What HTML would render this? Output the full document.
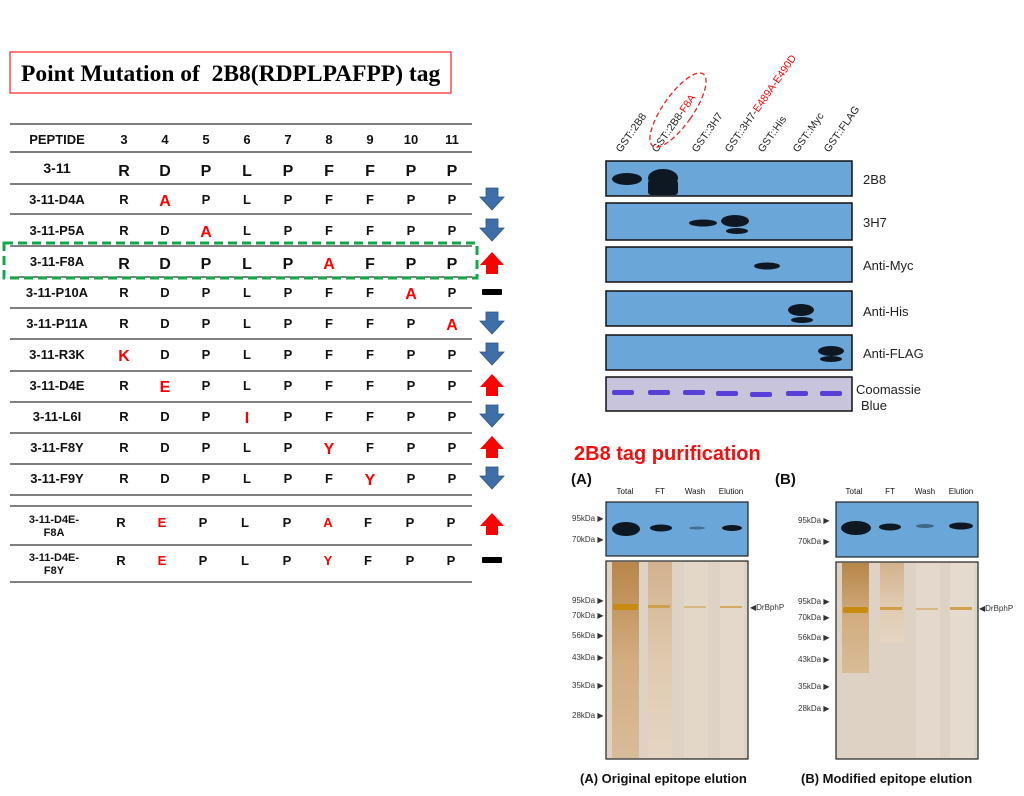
<!DOCTYPE html>
<html><head><meta charset="utf-8"><style>
html,body{margin:0;padding:0;background:#fff;}
svg{display:block;font-family:"Liberation Sans",sans-serif;}
</style></head><body>
<svg width="1024" height="796" viewBox="0 0 1024 796" xmlns="http://www.w3.org/2000/svg">
<defs>
<linearGradient id="laneT" x1="0" y1="0" x2="0" y2="1">
<stop offset="0" stop-color="#b7864a"/><stop offset="0.5" stop-color="#d2ad80"/><stop offset="1" stop-color="#d8bc98"/></linearGradient>
<linearGradient id="laneF" x1="0" y1="0" x2="0" y2="1">
<stop offset="0" stop-color="#d0aa80"/><stop offset="0.5" stop-color="#e0c8aa"/><stop offset="1" stop-color="#e6d6c2"/></linearGradient>
<g id="down"><path d="M-6,-11 h12 v9 h6 l-12,13 l-12,-13 h6 z" fill="#3f6fa8" stroke="#2d5484" stroke-width="0.8"/></g>
<g id="up"><path d="M-6,11 h12 v-9 h6 l-12,-13 l-12,13 h6 z" fill="#ff0000"/></g>
<g id="dash"><rect x="-10" y="-3" width="20" height="6" rx="1" fill="#000"/></g>
</defs>

<!-- title -->
<rect x="10" y="52" width="441" height="41" fill="none" stroke="#ff2020" stroke-width="1.2"/>
<text x="21" y="81" font-family="Liberation Serif,serif" font-weight="bold" font-size="23.5" xml:space="preserve">Point Mutation of  2B8(RDPLPAFPP) tag</text>

<!-- table lines -->
<g stroke="#333" stroke-width="1.3">
<line x1="10" y1="124" x2="472" y2="124"/><line x1="10" y1="152" x2="472" y2="152"/>
<line x1="10" y1="184" x2="472" y2="184"/><line x1="10" y1="214" x2="472" y2="214"/>
<line x1="10" y1="246" x2="472" y2="246"/><line x1="10" y1="277" x2="472" y2="277"/>
<line x1="10" y1="308" x2="472" y2="308"/><line x1="10" y1="339" x2="472" y2="339"/>
<line x1="10" y1="371" x2="472" y2="371"/><line x1="10" y1="402" x2="472" y2="402"/>
<line x1="10" y1="433" x2="472" y2="433"/><line x1="10" y1="464" x2="472" y2="464"/>
<line x1="10" y1="495" x2="472" y2="495"/><line x1="10" y1="506" x2="472" y2="506"/>
<line x1="10" y1="545" x2="472" y2="545"/><line x1="10" y1="582" x2="472" y2="582"/>
</g>
<rect x="4" y="243" width="473" height="35" fill="none" stroke="#12a84a" stroke-width="3" stroke-dasharray="9,5"/>

<g font-weight="bold" font-size="13" text-anchor="middle" fill="#111">
<text x="57" y="144">PEPTIDE</text>
<text x="124" y="144">3</text><text x="165" y="144">4</text><text x="206" y="144">5</text><text x="247" y="144">6</text><text x="288" y="144">7</text><text x="329" y="144">8</text><text x="370" y="144">9</text><text x="411" y="144">10</text><text x="452" y="144">11</text>
<text x="57" y="173" font-size="14">3-11</text>
<text x="57" y="204">3-11-D4A</text><text x="57" y="235">3-11-P5A</text>
<text x="57" y="266">3-11-F8A</text><text x="57" y="297">3-11-P10A</text>
<text x="57" y="328">3-11-P11A</text><text x="57" y="359">3-11-R3K</text>
<text x="57" y="390">3-11-D4E</text><text x="57" y="421">3-11-L6I</text>
<text x="57" y="452">3-11-F8Y</text><text x="57" y="483">3-11-F9Y</text>
<text x="54" y="523" font-size="11">3-11-D4E-</text><text x="54" y="536" font-size="11">F8A</text>
<text x="54" y="561" font-size="11">3-11-D4E-</text><text x="54" y="574" font-size="11">F8Y</text>
</g>
<g font-weight="bold" text-anchor="middle" fill="#111" font-size="16">
<text y="176"><tspan x="124">R</tspan><tspan x="165">D</tspan><tspan x="206">P</tspan><tspan x="247">L</tspan><tspan x="288">P</tspan><tspan x="329">F</tspan><tspan x="370">F</tspan><tspan x="411">P</tspan><tspan x="452">P</tspan></text>
<text y="269"><tspan x="124">R</tspan><tspan x="165">D</tspan><tspan x="206">P</tspan><tspan x="247">L</tspan><tspan x="288">P</tspan><tspan x="329" fill="#f00">A</tspan><tspan x="370">F</tspan><tspan x="411">P</tspan><tspan x="452">P</tspan></text>
</g>
<g font-weight="bold" text-anchor="middle" fill="#111" font-size="13">
<text y="204"><tspan x="124">R</tspan><tspan x="165" fill="#f00" font-size="16" dy="2">A</tspan><tspan x="206" dy="-2">P</tspan><tspan x="247">L</tspan><tspan x="288">P</tspan><tspan x="329">F</tspan><tspan x="370">F</tspan><tspan x="411">P</tspan><tspan x="452">P</tspan></text>
<text y="235"><tspan x="124">R</tspan><tspan x="165">D</tspan><tspan x="206" fill="#f00" font-size="16" dy="2">A</tspan><tspan x="247" dy="-2">L</tspan><tspan x="288">P</tspan><tspan x="329">F</tspan><tspan x="370">F</tspan><tspan x="411">P</tspan><tspan x="452">P</tspan></text>
<text y="297"><tspan x="124">R</tspan><tspan x="165">D</tspan><tspan x="206">P</tspan><tspan x="247">L</tspan><tspan x="288">P</tspan><tspan x="329">F</tspan><tspan x="370">F</tspan><tspan x="411" fill="#f00" font-size="16" dy="2">A</tspan><tspan x="452" dy="-2">P</tspan></text>
<text y="328"><tspan x="124">R</tspan><tspan x="165">D</tspan><tspan x="206">P</tspan><tspan x="247">L</tspan><tspan x="288">P</tspan><tspan x="329">F</tspan><tspan x="370">F</tspan><tspan x="411">P</tspan><tspan x="452" fill="#f00" font-size="16" dy="2">A</tspan></text>
<text y="359"><tspan x="124" fill="#f00" font-size="16" dy="2">K</tspan><tspan x="165" dy="-2">D</tspan><tspan x="206">P</tspan><tspan x="247">L</tspan><tspan x="288">P</tspan><tspan x="329">F</tspan><tspan x="370">F</tspan><tspan x="411">P</tspan><tspan x="452">P</tspan></text>
<text y="390"><tspan x="124">R</tspan><tspan x="165" fill="#f00" font-size="16" dy="2">E</tspan><tspan x="206" dy="-2">P</tspan><tspan x="247">L</tspan><tspan x="288">P</tspan><tspan x="329">F</tspan><tspan x="370">F</tspan><tspan x="411">P</tspan><tspan x="452">P</tspan></text>
<text y="421"><tspan x="124">R</tspan><tspan x="165">D</tspan><tspan x="206">P</tspan><tspan x="247" fill="#f00" font-size="16" dy="2">I</tspan><tspan x="288" dy="-2">P</tspan><tspan x="329">F</tspan><tspan x="370">F</tspan><tspan x="411">P</tspan><tspan x="452">P</tspan></text>
<text y="452"><tspan x="124">R</tspan><tspan x="165">D</tspan><tspan x="206">P</tspan><tspan x="247">L</tspan><tspan x="288">P</tspan><tspan x="329" fill="#f00" font-size="16" dy="2">Y</tspan><tspan x="370" dy="-2">F</tspan><tspan x="411">P</tspan><tspan x="452">P</tspan></text>
<text y="483"><tspan x="124">R</tspan><tspan x="165">D</tspan><tspan x="206">P</tspan><tspan x="247">L</tspan><tspan x="288">P</tspan><tspan x="329">F</tspan><tspan x="370" fill="#f00" font-size="16" dy="2">Y</tspan><tspan x="411" dy="-2">P</tspan><tspan x="452">P</tspan></text>
<text y="527"><tspan x="121">R</tspan><tspan x="162" fill="#f00">E</tspan><tspan x="203">P</tspan><tspan x="245">L</tspan><tspan x="287">P</tspan><tspan x="328" fill="#f00">A</tspan><tspan x="368">F</tspan><tspan x="410">P</tspan><tspan x="451">P</tspan></text>
<text y="565"><tspan x="121">R</tspan><tspan x="162" fill="#f00">E</tspan><tspan x="203">P</tspan><tspan x="245">L</tspan><tspan x="287">P</tspan><tspan x="328" fill="#f00">Y</tspan><tspan x="368">F</tspan><tspan x="410">P</tspan><tspan x="451">P</tspan></text>
</g>
<use href="#down" x="492" y="199"/><use href="#down" x="492" y="230"/>
<use href="#up" x="492" y="263"/><use href="#dash" x="492" y="292"/>
<use href="#down" x="492" y="323"/><use href="#down" x="492" y="354"/>
<use href="#up" x="492" y="385"/><use href="#down" x="492" y="416"/>
<use href="#up" x="492" y="447"/><use href="#down" x="492" y="478"/>
<use href="#up" x="492" y="524"/><use href="#dash" x="492" y="560"/>

<!-- western blot labels -->
<g font-size="10.5" fill="#222">
<text transform="translate(621,153) rotate(-55)">GST::2B8</text>
<text transform="translate(657,153) rotate(-55)">GST::2B8-<tspan fill="#f00">F8A</tspan></text>
<text transform="translate(697,153) rotate(-55)">GST::3H7</text>
<text transform="translate(730,153) rotate(-55)">GST::3H7-<tspan fill="#f00">E489A-E490D</tspan></text>
<text transform="translate(763,153) rotate(-55)">GST::His</text>
<text transform="translate(798,153) rotate(-55)">GST::Myc</text>
<text transform="translate(829,153) rotate(-55)">GST::FLAG</text>
</g>
<ellipse cx="678" cy="110" rx="15" ry="44" transform="rotate(35 678 110)" fill="none" stroke="#f02020" stroke-width="1.3" stroke-dasharray="5,3"/>

<g stroke="#111" stroke-width="1.5" fill="#6aa6d8">
<rect x="606" y="161" width="246" height="35"/>
<rect x="606" y="203" width="246" height="37"/>
<rect x="606" y="247" width="246" height="35"/>
<rect x="606" y="291" width="246" height="35"/>
<rect x="606" y="335" width="246" height="35"/>
<rect x="606" y="377" width="246" height="34" fill="#c8c4dc"/>
</g>
<g fill="#0e1822">
<ellipse cx="627" cy="179" rx="15" ry="6"/>
<ellipse cx="663" cy="178" rx="15" ry="9"/><rect x="648" y="180" width="30" height="15" rx="3"/>
<ellipse cx="703" cy="223" rx="14" ry="3.5"/>
<ellipse cx="735" cy="221" rx="14" ry="6"/><ellipse cx="737" cy="231" rx="11" ry="3"/>
<ellipse cx="767" cy="266" rx="13" ry="3.5"/>
<ellipse cx="801" cy="310" rx="13" ry="6"/><ellipse cx="802" cy="320" rx="11" ry="3"/>
<ellipse cx="831" cy="351" rx="13" ry="5"/><ellipse cx="831" cy="359" rx="11" ry="3"/>
</g>
<g fill="#5a3ed8">
<rect x="612" y="390" width="22" height="5" rx="2"/><rect x="648" y="390" width="22" height="5" rx="2"/>
<rect x="683" y="390" width="22" height="5" rx="2"/><rect x="716" y="391" width="22" height="5" rx="2"/>
<rect x="750" y="392" width="22" height="5" rx="2"/><rect x="786" y="391" width="22" height="5" rx="2"/>
<rect x="820" y="391" width="22" height="5" rx="2"/>
</g>
<g font-size="13" fill="#222">
<text x="863" y="184">2B8</text><text x="863" y="227">3H7</text>
<text x="863" y="270">Anti-Myc</text><text x="863" y="316">Anti-His</text>
<text x="863" y="358">Anti-FLAG</text>
<text x="856" y="394">Coomassie</text><text x="861" y="410">Blue</text>
</g>

<!-- purification -->
<text x="574" y="460" font-size="20" font-weight="bold" fill="#f01010">2B8 tag purification</text>
<g font-weight="bold" font-size="15" fill="#111"><text x="571" y="484">(A)</text><text x="775" y="484">(B)</text></g>
<g font-size="8" text-anchor="middle" fill="#111">
<text x="625" y="494">Total</text><text x="660" y="494">FT</text><text x="695" y="494">Wash</text><text x="731" y="494">Elution</text>
<text x="854" y="494">Total</text><text x="890" y="494">FT</text><text x="925" y="494">Wash</text><text x="961" y="494">Elution</text>
</g>
<g stroke="#222" stroke-width="1.2">
<rect x="606" y="502" width="142" height="54" fill="#6aa6d8"/>
<rect x="836" y="502" width="142" height="55" fill="#6aa6d8"/>
<rect x="606" y="561" width="142" height="198" fill="#ddd2c4"/>
<rect x="836" y="562" width="142" height="197" fill="#ddd2c4"/>
</g>
<g fill="#0e1822">
<ellipse cx="626" cy="529" rx="14" ry="7"/><ellipse cx="661" cy="528" rx="11" ry="3.5"/>
<ellipse cx="697" cy="528" rx="8" ry="1.5" opacity="0.4"/><ellipse cx="732" cy="528" rx="10" ry="3"/>
<ellipse cx="856" cy="528" rx="15" ry="7"/><ellipse cx="890" cy="527" rx="11" ry="3.5"/>
<ellipse cx="925" cy="526" rx="9" ry="2" opacity="0.45"/><ellipse cx="961" cy="526" rx="12" ry="3.5"/>
</g>
<g>
<rect x="612" y="562" width="27" height="196" fill="url(#laneT)"/>
<rect x="648" y="562" width="24" height="196" fill="url(#laneF)" opacity="0.8"/>
<rect x="684" y="562" width="24" height="196" fill="#e3d7c8"/>
<rect x="720" y="562" width="24" height="196" fill="#e3d8ca"/>
<rect x="842" y="563" width="27" height="110" fill="url(#laneT)"/>
<rect x="880" y="563" width="24" height="80" fill="url(#laneF)" opacity="0.8"/>
<rect x="916" y="563" width="24" height="195" fill="#e3d8cb"/>
<rect x="950" y="563" width="24" height="195" fill="#e4dace"/>
</g>
<g fill="#c88a1a">
<rect x="613" y="604" width="25" height="6" rx="2" fill="#c98a10"/><rect x="648" y="605" width="22" height="3" opacity="0.6"/>
<rect x="684" y="606" width="22" height="2" opacity="0.4"/><rect x="720" y="606" width="22" height="2" opacity="0.6"/>
<rect x="843" y="607" width="25" height="6" rx="2" fill="#c98a10"/><rect x="880" y="607" width="22" height="3" opacity="0.7"/>
<rect x="916" y="608" width="22" height="2" opacity="0.4"/><rect x="950" y="607" width="22" height="3" opacity="0.7"/>
</g>
<g font-size="8" fill="#333">
<text x="572" y="521">95kDa ▶</text><text x="572" y="542">70kDa ▶</text>
<text x="572" y="603">95kDa ▶</text><text x="572" y="618">70kDa ▶</text><text x="572" y="638">56kDa ▶</text>
<text x="572" y="660">43kDa ▶</text><text x="572" y="688">35kDa ▶</text><text x="572" y="718">28kDa ▶</text>
<text x="798" y="523">95kDa ▶</text><text x="798" y="544">70kDa ▶</text>
<text x="798" y="604">95kDa ▶</text><text x="798" y="620">70kDa ▶</text><text x="798" y="640">56kDa ▶</text>
<text x="798" y="662">43kDa ▶</text><text x="798" y="689">35kDa ▶</text><text x="798" y="711">28kDa ▶</text>
<text x="750" y="610">◀DrBphP</text><text x="979" y="611">◀DrBphP</text>
</g>
<g font-weight="bold" font-size="13" fill="#111">
<text x="580" y="783">(A) Original epitope elution</text>
<text x="801" y="783">(B) Modified epitope elution</text>
</g>
</svg>
</body></html>
